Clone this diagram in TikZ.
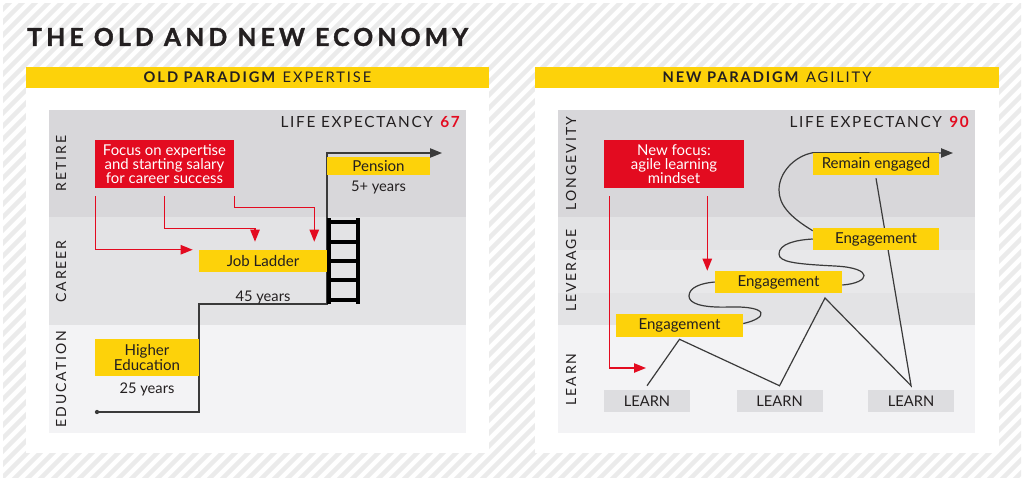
\documentclass[tikz,border=0pt]{standalone}
\usepackage{fontspec}
\setmainfont{Lato}
\usetikzlibrary{arrows.meta,positioning}

\definecolor{amarillo}{HTML}{FDD20A}
\definecolor{rojo}{HTML}{E30B20}
\definecolor{tinta}{HTML}{231F20}
\definecolor{linea}{HTML}{3A3A3A}
\definecolor{rayado}{HTML}{EBEBEB}
\definecolor{bandaA}{HTML}{D8D7DA}
\definecolor{bandaB}{HTML}{E3E3E5}
\definecolor{bandaC}{HTML}{F3F3F5}
\definecolor{bandaD}{HTML}{E8E8EA}
\definecolor{grisbox}{HTML}{DDDDE0}

\newlength{\pxu}
\setlength{\pxu}{0.75pt}

\pgfdeclarelayer{fondo}
\pgfdeclarelayer{lineas}
\pgfsetlayers{fondo,lineas,main}

\tikzset{
  raya/.style={rayado, line width=3.4pt},
  titulo/.style={text=tinta, inner sep=0pt, font=\fontsize{18.5}{20}\selectfont\bfseries\addfontfeatures{LetterSpace=17,FakeBold=1.5}},
  cabecera/.style={fill=amarillo, text=tinta, inner sep=0pt, font=\fontsize{11}{12}\selectfont\addfontfeatures{LetterSpace=13}},
  vida/.style={anchor=east, text=tinta, inner sep=0pt, font=\fontsize{11.5}{12}\selectfont\addfontfeatures{LetterSpace=11}},
  eje/.style={rotate=90, text=tinta, inner sep=0pt, font=\fontsize{10.5}{12}\selectfont\addfontfeatures{LetterSpace=14}},
  caja/.style={fill=amarillo, text=tinta, inner sep=0pt, align=center, font=\fontsize{11.3}{11.3}\selectfont},
  cajaroja/.style={fill=rojo, text=white, inner sep=0pt, align=center, font=\fontsize{11.2}{10.5}\selectfont},
  cajagris/.style={fill=grisbox, text=tinta, inner sep=0pt, font=\fontsize{11}{12}\selectfont},
  anos/.style={text=tinta, inner sep=0pt, font=\fontsize{11}{12}\selectfont},
  flujo/.style={->, draw=rojo, line width=1pt},
  trazo/.style={draw=linea, line width=0.9pt},
  peldano/.style={draw=black, line width=2.3pt}
}

\begin{document}
\begin{tikzpicture}[x=0.75pt, y=-0.75pt, >={Triangle[length=9pt,width=7pt]}]
  \useasboundingbox (0,0) rectangle (1024,480);

  \begin{pgfonlayer}{fondo}
    % Fondo rayado
    \fill[white] (0,0) rectangle (1024,480);
    \begin{scope}
      \clip (3,3) rectangle (1021,477);
      \foreach \i in {-38,...,80}
        \draw[raya] (\i*13,480) -- ++(480,-480);
    \end{scope}

    % Paneles blancos
    \fill[white] (26,88) rectangle (489,453);
    \fill[white] (535,88) rectangle (999,453);

    % Bandas del paradigma viejo
    \fill[bandaA] (49,110) rectangle (466,217);
    \fill[bandaB] (49,217) rectangle (466,325);
    \fill[bandaC] (49,325) rectangle (466,433);

    % Bandas del paradigma nuevo
    \fill[bandaA] (558,110) rectangle (975,217);
    \fill[bandaB] (558,217) rectangle (975,250);
    \fill[bandaD] (558,250) rectangle (975,293);
    \fill[bandaB] (558,293) rectangle (975,325);
    \fill[bandaC] (558,325) rectangle (975,433);
  \end{pgfonlayer}

  % Titulos
  \node[titulo, anchor=west] (titulo) at (27,37) {THE OLD AND NEW ECONOMY};
  \node[cabecera, minimum width=463\pxu, minimum height=21\pxu] (cabvieja) at (257.5,77.5) {\textbf{OLD PARADIGM} EXPERTISE};
  \node[cabecera, minimum width=464\pxu, minimum height=21\pxu] (cabnueva) at (767,77.5) {\textbf{NEW PARADIGM} AGILITY};

  % Esperanza de vida
  \node[vida] (vida67) at (460,122) {LIFE EXPECTANCY \textbf{\textcolor{rojo}{67}}};
  \node[vida] (vida90) at (969,122) {LIFE EXPECTANCY \textbf{\textcolor{rojo}{90}}};

  % Etiquetas laterales
  \node[eje] (retire) at (61,163.5) {RETIRE};
  \node[eje] (career) at (61,271.5) {CAREER};
  \node[eje] (education) at (61,379) {EDUCATION};
  \node[eje] (longevity) at (571,163.5) {LONGEVITY};
  \node[eje] (leverage) at (571,270.5) {LEVERAGE};
  \node[eje] (learnlado) at (571,379.5) {LEARN};

  % Cajas del paradigma viejo
  \node[cajaroja, minimum width=139\pxu, minimum height=48\pxu] (foco) at (164.5,164) {Focus on expertise\\and starting salary\\for career success};
  \node[caja, minimum width=128\pxu, minimum height=22\pxu] (carrera) at (263,261) {Job Ladder};
  \node[caja, minimum width=103\pxu, minimum height=18\pxu] (pension) at (378.5,166) {Pension};
  \node[caja, minimum width=104\pxu, minimum height=37\pxu] (educacion) at (147,357.5) {Higher\\Education};
  \node[anos, below=5\pxu of pension] (anos5) {5+ years};
  \node[anos, below=18\pxu of carrera] (anos45) {45 years};
  \node[anos, below=6\pxu of educacion] (anos25) {25 years};

  % Cajas del paradigma nuevo
  \node[cajaroja, minimum width=140\pxu, minimum height=48\pxu] (foconuevo) at (674,164) {New focus:\\agile learning\\mindset};
  \node[caja, minimum width=127\pxu, minimum height=23\pxu] (eng1) at (679.5,325.5) {Engagement};
  \node[caja, minimum width=127\pxu, minimum height=22\pxu] (eng2) at (778.5,282) {Engagement};
  \node[caja, minimum width=126\pxu, minimum height=22\pxu] (eng3) at (876,239) {Engagement};
  \node[caja, minimum width=126\pxu, minimum height=22\pxu] (sigue) at (876,164) {Remain engaged};
  \node[cajagris, minimum width=86\pxu, minimum height=22\pxu] (learn1) at (647,401) {LEARN};
  \node[cajagris, minimum width=86\pxu, minimum height=22\pxu, right=46\pxu of learn1] (learn2) {LEARN};
  \node[cajagris, minimum width=86\pxu, minimum height=22\pxu, right=45\pxu of learn2] (learn3) {LEARN};

  % Puntos de paso
  \coordinate (inicio) at (97,412);
  \coordinate (escalon1) at (199,304);
  \coordinate (escalon2) at (327,153);
  \coordinate (finvieja) at (442,153);
  \coordinate (finnueva) at (953,153);
  \coordinate (pico) at (825,298);
  \coordinate (destino) at (646,368);

  \begin{pgfonlayer}{lineas}
    % Flechas rojas del paradigma viejo
    \draw[flujo] ([xshift=1\pxu,yshift=-8\pxu]foco.south west) |- ([xshift=-6\pxu]carrera.north west);
    \draw[flujo] ([yshift=-8\pxu]foco.south) -- ++(0,32) -| ([xshift=-8\pxu,yshift=8\pxu]carrera.north);
    \draw[flujo] ([yshift=-8\pxu]foco.south east) -- ++(0,11) -| ([xshift=-13\pxu,yshift=8\pxu]carrera.north east);

    % Escalera de la carrera
    \draw[trazo, ->] (inicio) -| (escalon1) -| (escalon2) -- (finvieja);
    \fill[linea] (inicio) circle[radius=1.6pt];
    \foreach \x in {329,358}
      \draw[peldano] (\x,218) -- (\x,304);
    \foreach \y in {222,242,261,280,300}
      \draw[peldano] (329,\y) -- (358,\y);

    % Flechas rojas del paradigma nuevo
    \draw[flujo] ([xshift=6\pxu,yshift=-8\pxu]foconuevo.south west) |- (destino);
    \draw[flujo] ([xshift=-37\pxu,yshift=-8\pxu]foconuevo.south east) coordinate (bajada) -- (bajada |- eng2.north);

    % Zigzag de aprendizaje
    \draw[trazo] ([yshift=4\pxu]learn1.north) -- ([yshift=-2\pxu]eng1.south)
      -- ([yshift=4\pxu]learn2.north) -- (pico)
      -- ([yshift=4\pxu]learn3.north) -- ([yshift=-3\pxu]sigue.south);

    % Bucles entre compromisos
    \draw[trazo] ([yshift=2\pxu]eng1.east) .. controls (768,318) and (770,306) .. (730,307)
      .. controls (700,308) and (689,303) .. (689,296)
      .. controls (689,287) and (702,283) .. (eng2.west);
    \draw[trazo] ([yshift=-3\pxu]eng2.east) .. controls (870,283) and (875,268) .. (835,266)
      .. controls (795,264) and (779,262) .. (779,254)
      .. controls (779,244) and (795,240) .. (eng3.west);
    \draw[trazo, ->] ([yshift=-3\pxu]eng3.north west) .. controls (790,217) and (779,205) .. (779,190)
      .. controls (779,172) and (795,156) .. (sigue.north west) -- (finnueva);
  \end{pgfonlayer}
\end{tikzpicture}
\end{document}
